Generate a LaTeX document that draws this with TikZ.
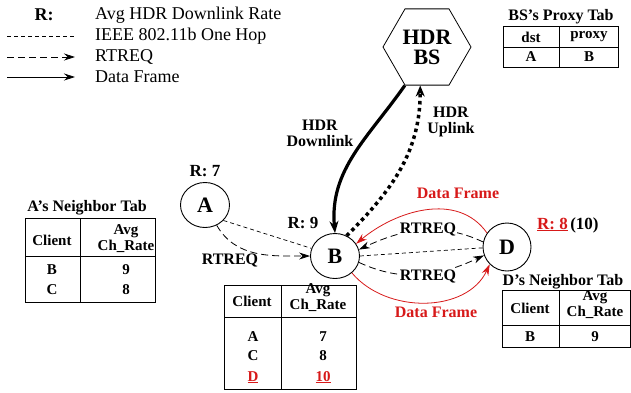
\documentclass[tikz,border=0pt]{standalone}
\usepackage{fontspec}
\setmainfont{Liberation Serif}
\usetikzlibrary{shapes.geometric,arrows.meta}
\definecolor{dfred}{RGB}{215,25,25}
\newcommand{\fsz}[1]{\fontsize{#1}{#1}\selectfont}

\begin{document}
\begin{tikzpicture}[x=1pt,y=1pt,
  client/.style={ellipse, draw, line width=0.9pt, minimum width=49pt, minimum height=45pt, inner sep=0pt, font=\fsz{22}\bfseries},
  lbl/.style={font=\fsz{16}\bfseries, inner sep=1pt},
  rlbl/.style={font=\fsz{17}\bfseries, inner sep=0pt},
  leg/.style={font=\fsz{18}, anchor=west, inner sep=0pt},
  onehop/.style={dash pattern=on 4pt off 3pt, line width=0.7pt},
  rtreq/.style={dash pattern=on 7pt off 4pt, line width=0.8pt, -{Stealth[length=11pt,width=7pt]}},
  dframe/.style={line width=0.8pt, -{Stealth[length=11pt,width=7pt]}},
  tabline/.style={line width=1pt},
  cell/.style={font=\fontsize{15}{16}\selectfont\bfseries, inner sep=0pt, align=center}]
      \useasboundingbox (0,0) rectangle (631,-392);

      \node[font=\fsz{18}\bfseries, inner sep=0pt] (legR) at (44,-15) {R:};
      \node[leg] (legt0) at (95,-15) {Avg HDR Downlink Rate};
      \coordinate (lg1a) at (7,-36);
      \coordinate (lg1b) at (75,-36);
      \node[leg] (legt1) at (95,-36) {IEEE 802.11b One Hop};
      \coordinate (lg2a) at (7,-57);
      \coordinate (lg2b) at (75,-57);
      \node[leg] (legt2) at (95,-57) {RTREQ};
      \coordinate (lg3a) at (7,-77);
      \coordinate (lg3b) at (75,-77);
      \node[leg] (legt3) at (95,-77) {Data Frame};
      \draw[onehop] (lg1a) -- (lg1b);
      \draw[rtreq] (lg2a) -- (lg2b);
      \draw[dframe] (lg3a) -- (lg3b);

      \node[regular polygon, regular polygon sides=6, draw, line width=0.8pt, minimum size=88pt, inner sep=0pt] (hbs) at (427,-47) {};
      \node[align=center, inner sep=0pt, font=\fontsize{22}{20}\selectfont\bfseries] (hbst) at (hbs.center) {HDR\\BS};
      \node[client] (cliA) at (205,-205) {A};
      \node[client] (cliB) at (335,-256) {B};
      \node[client, minimum width=48pt, minimum height=48pt] (cliD) at (507,-247) {D};

      \draw[line width=3.2pt, -{Stealth[length=12pt,width=9pt]}] (hbs.240) to[out=235,in=95] (cliB.north);
      \draw[line width=3.5pt, dash pattern=on 3.5pt off 3.5pt, -{Stealth[length=11pt,width=9pt]}] (cliB.60) to[out=45,in=-90] (hbs.260);
      \draw[onehop] (cliA.-40) -- (cliB.162);
      \draw[rtreq] (cliA.-60) to[out=-60,in=180] (cliB.west);
      \draw[onehop] (cliB.0) -- (cliD.182);
      \draw[rtreq] (cliD.168) to[out=155,in=25] (cliB.15);
      \draw[rtreq] (cliB.-15) to[out=-25,in=-155] (cliD.-160);
      \draw[dframe, dfred] (cliD.145) to[out=125,in=40] (cliB.30);
      \draw[dframe, dfred] (cliB.-45) to[out=-50,in=-115] (cliD.-135);

      \node[lbl, align=center] (dlink) at (320,-133) {HDR\\Downlink};
      \node[lbl, align=center] (ulink) at (451,-122) {HDR\\Uplink};
      \node[rlbl] (rA) at (205,-171) {R: 7};
      \node[rlbl] (rB) at (303,-223) {R: 9};
      \node[rlbl, anchor=base west, text=dfred] (rD) at (537,-229) {\underline{R: 8}};
      \node[rlbl, anchor=base west, xshift=2pt] (rDn) at (rD.base east) {(10)};
      \node[lbl] (rtq0) at (230,-260) {RTREQ};
      \node[lbl, fill=white] (rtq1) at (428,-229) {RTREQ};
      \node[lbl, fill=white] (rtq2) at (428,-276) {RTREQ};
      \node[lbl, text=dfred] (df0) at (458,-193) {Data Frame};
      \node[lbl, text=dfred] (df1) at (436,-312) {Data Frame};

      \node[lbl] (bstit) at (561,-17) {BS’s Proxy Tab};
      \draw[tabline] (503,-26) rectangle (618,-67) (559,-26) -- (559,-67) (503,-47) -- (618,-47);
      \node[cell] (bs00) at (531,-37) {dst};
      \node[cell] (bs01) at (589,-37) {proxy};
      \node[cell] (bs10) at (531,-57) {A};
      \node[cell] (bs11) at (589,-57) {B};

      \node[lbl] (atit) at (87,-208) {A’s Neighbor Tab};
      \draw[tabline] (25,-218) rectangle (155,-302) (80,-218) -- (80,-302) (25,-256) -- (155,-256);
      \node[cell] (at00) at (52,-240) {Client};
      \node[cell] (at01) at (126,-239) {Avg\\Ch\_Rate};
      \node[cell] (at10) at (52,-270) {B};
      \node[cell] (at11) at (126,-270) {9};
      \node[cell] (at20) at (52,-290) {C};
      \node[cell] (at21) at (126,-290) {8};

      \draw[tabline] (224,-285) rectangle (356,-389) (281,-285) -- (281,-389) (224,-317) -- (356,-317);
      \node[cell] (bt00) at (252,-301) {Client};
      \node[cell] (bt01) at (318,-298) {Avg\\Ch\_Rate};
      \node[cell] (bt10) at (253,-337) {A};
      \node[cell] (bt11) at (323,-337) {7};
      \node[cell] (bt20) at (253,-356) {C};
      \node[cell] (bt21) at (323,-356) {8};
      \node[cell, anchor=base, text=dfred] (bt30) at (253,-381) {\underline{D}};
      \node[cell, anchor=base, text=dfred] (bt31) at (323,-381) {\underline{10}};

      \node[lbl] (dtit) at (563,-282) {D’s Neighbor Tab};
      \draw[tabline] (502,-290) rectangle (630,-347) (559,-290) -- (559,-347) (502,-325) -- (630,-325);
      \node[cell] (dt00) at (530,-308) {Client};
      \node[cell] (dt01) at (595,-305) {Avg\\Ch\_Rate};
      \node[cell] (dt10) at (530,-337) {B};
      \node[cell] (dt11) at (595,-337) {9};

    \end{tikzpicture}
\end{document}
